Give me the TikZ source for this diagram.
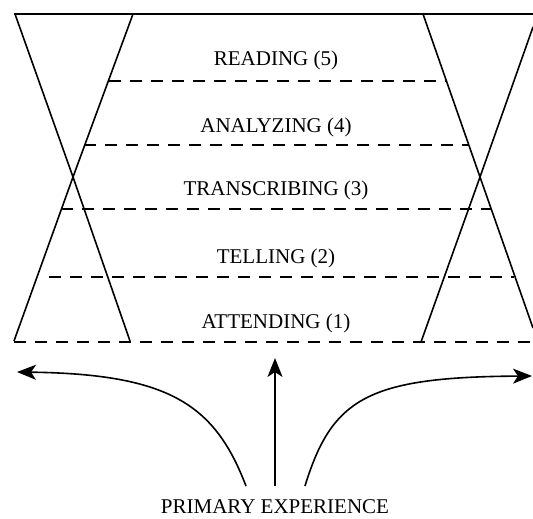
\documentclass[tikz,border=0pt]{standalone}
\usepackage{fontspec}
\setmainfont{Liberation Serif}
\usetikzlibrary{arrows.meta}
\tikzset{
  solidline/.style={line width=1.6pt, line join=miter},
  dashline/.style={line width=1.8pt, dash pattern=on 12pt off 9pt},
  arrowline/.style={line width=1.6pt, -{Stealth[length=19pt, width=15pt, inset=5pt]}},
  lbl/.style={anchor=base, inner sep=0pt, font=\fontsize{21}{24}\selectfont}
}
\begin{document}
\begin{tikzpicture}[x=1pt, y=-1pt]
\useasboundingbox (0,0) rectangle (533,519);
% top line
\draw[solidline] (14,14) -- (533,14);
% left hourglass
\draw[solidline] (15,14) -- (73,177) -- (133,14);
\draw[solidline] (14,341) -- (73,177) -- (130,341);
% right hourglass
\draw[solidline] (423,14) -- (480,177) -- (533,27);
\draw[solidline] (421,342) -- (480,177) -- (533,328);
% dashed levels
\draw[dashline] (109,81) -- (446,81);
\draw[dashline] (84,145) -- (469,145);
\draw[dashline] (61,209) -- (491,209);
\draw[dashline] (49,277) -- (514,277);
\draw[dashline] (14,342) -- (533,342);
% labels
\node[lbl] (l5) at (276,66) {READING (5)};
\node[lbl] (l4) at (276,132) {ANALYZING (4)};
\node[lbl] (l3) at (276,195) {TRANSCRIBING (3)};
\node[lbl] (l2) at (276,263) {TELLING (2)};
\node[lbl] (l1) at (276,328) {ATTENDING (1)};
\node[lbl] (pe) at (275,513) {PRIMARY EXPERIENCE};
% arrows
\coordinate (ls) at (246,486);
\coordinate (le) at (17,372);
\coordinate (ms) at (275,486);
\coordinate (me) at (275,358);
\coordinate (rs) at (305,486);
\coordinate (re) at (532,376);
\draw[arrowline] (ls) .. controls (215,405) and (170,374) .. (le);
\draw[arrowline] (ms) -- (me);
\draw[arrowline] (rs) .. controls (332,398) and (368,377) .. (re);
\end{tikzpicture}
\end{document}
